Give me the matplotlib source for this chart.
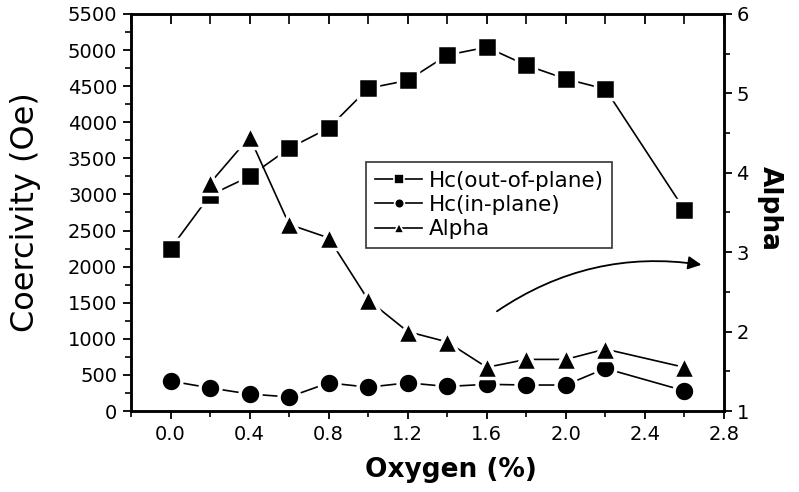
import numpy as np
import matplotlib
matplotlib.use("Agg")
import matplotlib.pyplot as plt
import matplotlib.lines as mlines
from matplotlib.ticker import MultipleLocator
from matplotlib.lines import Line2D

plt.rcParams['font.family'] = ['DejaVu Sans']

# Data
oxygen = [0.0, 0.2, 0.4, 0.6, 0.8, 1.0, 1.2, 1.4, 1.6, 1.8, 2.0, 2.2, 2.6]
hc_out = [2250, 2990, 3250, 3640, 3920, 4470, 4580, 4930, 5040, 4790, 4600, 4460, 2790]
hc_in = [415, 320, 235, 195, 390, 330, 390, 340, 370, 360, 360, 590, 280]
alpha_x = [0.2, 0.4, 0.6, 0.8, 1.0, 1.2, 1.4, 1.6, 1.8, 2.0, 2.2, 2.6]
alpha = [3.87, 4.45, 3.35, 3.18, 2.40, 2.00, 1.87, 1.55, 1.65, 1.65, 1.78, 1.55]

pos = [0.164, 0.1646, 0.742, 0.807]
fig = plt.figure(figsize=(7.99, 4.92), dpi=100)
ax1 = fig.add_axes(pos)
ax2 = ax1.twinx()

style = dict(color='black', lw=1.2, markeredgecolor='white', markeredgewidth=2.5)
l1, = ax1.plot(oxygen, hc_out, marker='s', markersize=15, label='Hc(out-of-plane)', **style)
l2, = ax1.plot(oxygen, hc_in, marker='o', markersize=15, label='Hc(in-plane)', **style)
l3, = ax2.plot(alpha_x, alpha, marker='^', markersize=16, label='Alpha', **style)

ax1.set_xlim(-0.2, 2.8)
ax1.set_ylim(0, 5500)
ax2.set_ylim(1, 6)

ax1.xaxis.set_major_locator(MultipleLocator(0.4))
ax1.xaxis.set_minor_locator(MultipleLocator(0.2))
ax1.yaxis.set_major_locator(MultipleLocator(500))
ax1.yaxis.set_minor_locator(MultipleLocator(250))
ax2.yaxis.set_major_locator(MultipleLocator(1))
ax2.yaxis.set_minor_locator(MultipleLocator(0.5))
ax1.xaxis.set_major_formatter(plt.FormatStrFormatter('%.1f'))

ax1.tick_params(axis='both', which='major', direction='out', length=6, width=1.3,
                labelsize=14, pad=4)
ax1.tick_params(axis='both', which='minor', direction='out', length=4, width=1.2)
ax2.tick_params(axis='y', which='major', direction='out', length=6, width=1.3,
                labelsize=14, pad=3)
ax2.tick_params(axis='y', which='minor', direction='out', length=4, width=1.2)

# top ticks: shown, no labels, pointing inward
ax1.tick_params(axis='x', which='both', top=True, labeltop=False)
n_major = len(ax1.xaxis.get_majorticklocs())
n_minor = len(ax1.xaxis.get_minorticklocs())
for t in ax1.xaxis.get_major_ticks(n_major) + ax1.xaxis.get_minor_ticks(n_minor):
    t.tick2line.set_marker(mlines.TICKDOWN)
    t.tick2line.set_markersize(7)

for ax in (ax1, ax2):
    for s in ax.spines.values():
        s.set_linewidth(1.8)

ax1.set_xlabel('Oxygen (%)', fontsize=19, fontweight='bold')
ax1.xaxis.set_label_coords(0.54, -0.115)
ax1.set_ylabel('Coercivity (Oe)', fontsize=23)
ax1.yaxis.set_label_coords(-0.152, 0.5)
ax2.set_ylabel('Alpha', fontsize=19, fontweight='bold', rotation=270)
ax2.yaxis.set_label_coords(1.1, 0.51)

# legend with small markers
handles = [Line2D([], [], color='black', lw=1.2, marker=m, markersize=7,
                  markeredgecolor='white', markeredgewidth=1.2)
           for m in ['s', 'o', '^']]
labels = [l1.get_label(), l2.get_label(), l3.get_label()]
leg = ax1.legend(handles, labels, loc='upper left', bbox_to_anchor=(0.397, 0.627),
                 fontsize=15.5, frameon=True, fancybox=False, edgecolor='black',
                 handlelength=2.2, handletextpad=0.3, labelspacing=0.2,
                 borderpad=0.4, borderaxespad=0)
leg.get_frame().set_linewidth(1.2)

# curved arrow pointing to the right axis
ax1.annotate('', xy=(2.70, 2020), xytext=(1.64, 1360),
             arrowprops=dict(arrowstyle='-|>', color='black', lw=1.3,
                             mutation_scale=20,
                             connectionstyle='arc3,rad=-0.2'))

fig.savefig('out.png', dpi=100)
